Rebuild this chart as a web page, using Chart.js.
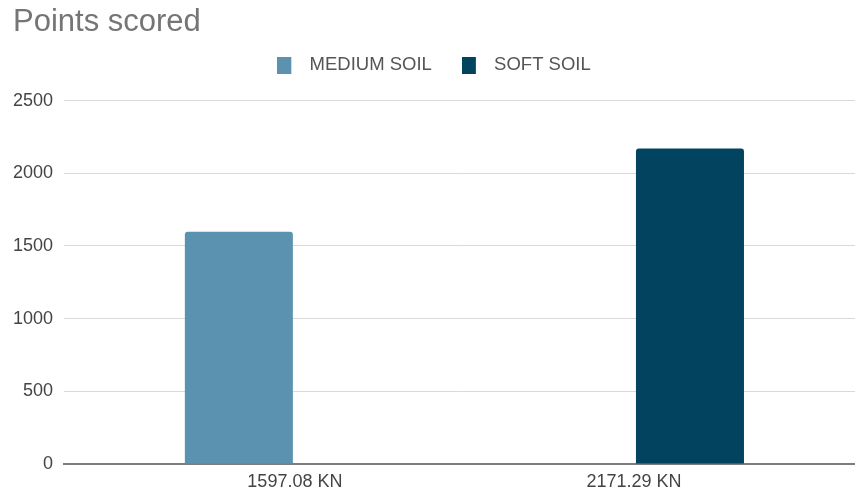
<!DOCTYPE html>
<html>
<head>
<meta charset="utf-8">
<title>Points scored</title>
<script src="https://cdn.jsdelivr.net/npm/chart.js@4"></script>
<style>
  html, body { margin: 0; padding: 0; background: #ffffff; }
  #wrap { width: 855px; height: 493px; position: relative; }
</style>
</head>
<body>
<div id="wrap"><canvas id="chart"></canvas></div>
<script>
// Categories (load at failure) and the two soil series
const categories = ['1597.08 KN', '2171.29 KN'];
const seriesNames = ['MEDIUM SOIL', 'SOFT SOIL'];
const mediumSoil = [1597.08, null];
const softSoil = [null, 2171.29];
const yTickStep = 500;
const yMax = 2500;

const colors = ['#5a92b0', '#02445f'];
const FONT = '"Liberation Sans", Arial, sans-serif';

// Legend swatch: square on the left of a wider transparent box
function swatch(color) {
  const c = document.createElement('canvas');
  c.width = 23; c.height = 17;
  const g = c.getContext('2d');
  g.fillStyle = color;
  g.fillRect(0, 0, 14, 17);
  return c;
}
const swatches = colors.map(swatch);

const toPoints = arr => arr.map((v, i) => ({ x: i, y: v }));

new Chart(document.getElementById('chart'), {
  type: 'bar',
  data: {
    datasets: [
      { label: seriesNames[0], data: toPoints(mediumSoil), backgroundColor: colors[0] },
      { label: seriesNames[1], data: toPoints(softSoil), backgroundColor: colors[1] }
    ]
  },
  options: {
    responsive: true,
    maintainAspectRatio: false,
    animation: false,
    categoryPercentage: 0.661,
    barPercentage: 0.964,
    borderRadius: { topLeft: 3, topRight: 3 },
    borderSkipped: 'start',
    layout: { padding: { left: 13, right: 0, top: 0, bottom: 0 } },
    plugins: {
      tooltip: { enabled: false },
      title: {
        display: true,
        text: 'Points scored',
        align: 'start',
        color: '#757575',
        font: { family: FONT, size: 31, weight: 'normal', lineHeight: 0.22 },
        padding: { top: 19, bottom: 0 }
      },
      legend: {
        display: true,
        position: 'top',
        align: 'center',
        labels: {
          usePointStyle: true,
          pointStyleWidth: 23,
          padding: 30,
          color: '#555555',
          font: { family: FONT, size: 18.5 },
          generateLabels: chart =>
            Chart.defaults.plugins.legend.labels.generateLabels(chart)
              .map((it, i) => Object.assign(it, { pointStyle: swatches[i] }))
        }
      }
    },
    scales: {
      x: {
        type: 'linear',
        offset: false,
        min: -0.681,
        max: 1.652,
        grid: { display: false, drawTicks: false },
        border: { display: true, color: '#7d7d7d', width: 2 },
        afterBuildTicks: s => { s.ticks = categories.map((_, i) => ({ value: i })); },
        afterFit: s => { s.height = 29; },
        ticks: {
          autoSkip: false,
          maxRotation: 0,
          padding: 7,
          color: '#444444',
          font: { family: FONT, size: 18 },
          callback: v => categories[v]
        }
      },
      // empty band between the legend and the plot area
      gap: {
        type: 'linear',
        position: 'top',
        grid: { display: false, drawTicks: false },
        border: { display: false },
        ticks: { display: false },
        afterFit: s => { s.height = 16.3; }
      },
      y: {
        min: 0,
        max: yMax,
        grid: { color: '#d9d9d9', lineWidth: 1, drawTicks: false },
        border: { display: false },
        afterFit: s => { s.width = 51; },
        ticks: {
          stepSize: yTickStep,
          padding: 11,
          color: '#444444',
          font: { family: FONT, size: 18 },
          callback: v => String(v)
        }
      }
    }
  }
});
</script>
</body>
</html>
